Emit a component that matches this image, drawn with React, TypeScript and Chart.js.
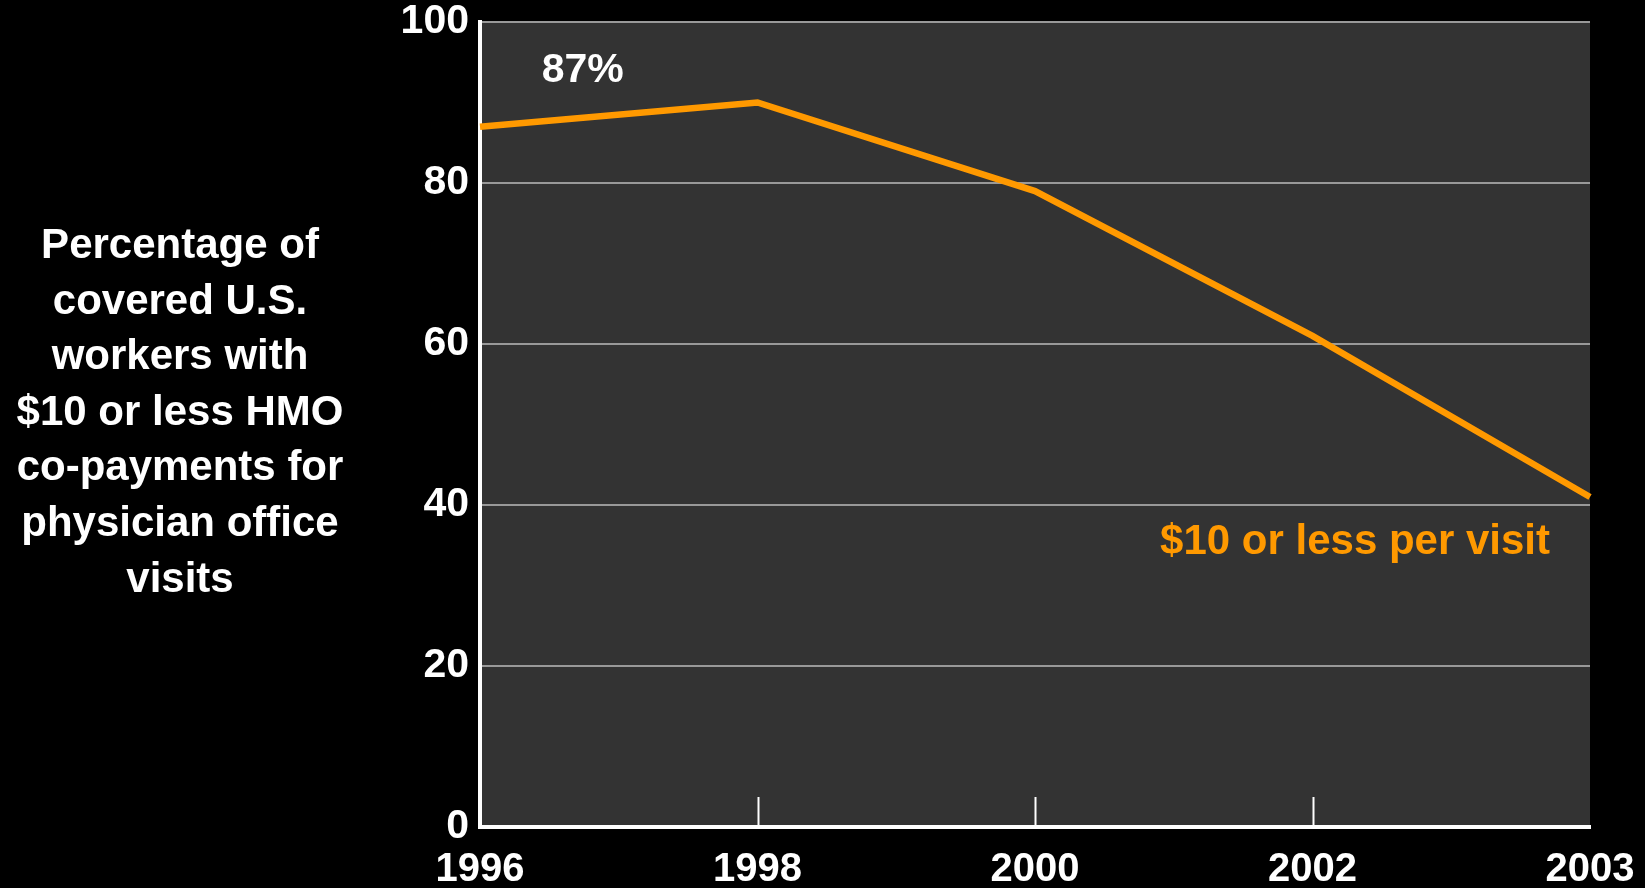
import React, { useEffect, useRef } from "react";
import { Chart, registerables } from "chart.js";

Chart.register(...registerables);

const years = ["1996", "1998", "2000", "2002", "2003"];
const pctUnder10 = [87, 90, 79, 61, 41];
const yTicks = [0, 20, 40, 60, 80, 100];
const titleLines = [
  "Percentage of",
  "covered U.S.",
  "workers with",
  "$10 or less HMO",
  "co-payments for",
  "physician office",
  "visits",
];
const firstLabel = "87%";
const seriesLabel = "$10 or less per visit";
const innerTickYears = ["1998", "2000", "2002"];

const FONT = '"Liberation Sans", Arial, Helvetica, sans-serif';
const ORANGE = "#FF9900";

const decorPlugin = {
  id: "decor",
  beforeDraw(chart: any) {
    const { ctx, chartArea } = chart;
    ctx.save();
    ctx.fillStyle = "#000";
    ctx.fillRect(0, 0, chart.width, chart.height);
    ctx.fillStyle = "#333333";
    ctx.fillRect(chartArea.left, chartArea.top, chartArea.right - chartArea.left, chartArea.bottom - chartArea.top);
    ctx.restore();
  },
  afterDraw(chart: any) {
    const { ctx, chartArea } = chart;
    const xs = chart.scales.x;
    const ys = chart.scales.y;
    ctx.save();
    // inner tick marks
    ctx.strokeStyle = "#ffffff";
    ctx.lineWidth = 2;
    innerTickYears.forEach((yr) => {
      const idx = years.indexOf(yr);
      const px = Math.round(xs.getPixelForValue(idx)) + 0.5;
      ctx.beginPath();
      ctx.moveTo(px, chartArea.bottom);
      ctx.lineTo(px, chartArea.bottom - 30);
      ctx.stroke();
    });
    // 87% label
    const step = xs.getPixelForValue(1) - xs.getPixelForValue(0);
    ctx.fillStyle = "#ffffff";
    ctx.font = `bold 41px ${FONT}`;
    ctx.textAlign = "center";
    ctx.textBaseline = "middle";
    ctx.fillText(firstLabel, xs.getPixelForValue(0) + 0.37 * step, ys.getPixelForValue(94));
    // series label
    ctx.fillStyle = ORANGE;
    ctx.font = `bold 42px ${FONT}`;
    ctx.textAlign = "right";
    ctx.fillText(seriesLabel, xs.getPixelForValue(years.length - 1) - 40, ys.getPixelForValue(35.4));
    // y-axis title
    ctx.fillStyle = "#ffffff";
    ctx.font = `bold 42px ${FONT}`;
    ctx.textAlign = "center";
    const lineH = 55.6;
    const startY = 246.5;
    titleLines.forEach((t, i) => {
      ctx.fillText(t, 180, startY + i * lineH);
    });
    ctx.restore();
  },
};

export default function App() {
  const ref = useRef<HTMLCanvasElement | null>(null);
  useEffect(() => {
    document.body.style.margin = "0";
    document.body.style.background = "#000";
    const canvas = ref.current!;
    const chart = new Chart(canvas, {
      type: "line",
      data: {
        labels: years,
        datasets: [
          {
            label: seriesLabel,
            data: pctUnder10,
            borderColor: ORANGE,
            backgroundColor: ORANGE,
            borderWidth: 6.5,
            pointRadius: 0,
            borderJoinStyle: "miter",
            tension: 0,
          },
        ],
      },
      options: {
        responsive: false,
        animation: false,
        devicePixelRatio: 1,
        layout: { padding: { left: 0, top: 22, right: 55, bottom: 0 } },
        plugins: {
          legend: { display: false },
          tooltip: { enabled: false },
          title: { display: false },
        },
        scales: {
          x: {
            type: "category",
            offset: false,
            grid: { display: false, drawTicks: false },
            border: { display: true, color: "#ffffff", width: 4 },
            ticks: {
              color: "#ffffff",
              font: { family: FONT, size: 40, weight: "bold" },
              padding: 19,
              maxRotation: 0,
              autoSkip: false,
            },
            afterFit(scale: any) {
              scale.height = 61;
              scale.paddingLeft = 0;
              scale.paddingRight = 0;
            },
          },
          y: {
            min: 0,
            max: 100,
            afterBuildTicks(scale: any) {
              scale.ticks = yTicks.map((v) => ({ value: v }));
            },
            grid: { color: "#999999", lineWidth: 2, drawTicks: false },
            border: { display: true, color: "#ffffff", width: 4 },
            ticks: {
              color: "#ffffff",
              font: { family: FONT, size: 41, weight: "bold" },
              padding: 11,
            },
            afterFit(scale: any) {
              scale.width = 480;
              scale.paddingTop = 0;
              scale.paddingBottom = 0;
            },
          },
        },
      },
      plugins: [decorPlugin],
    });
    return () => chart.destroy();
  }, []);
  return (
    <div style={{ position: "fixed", left: 0, top: 0, width: 1645, height: 888, background: "#000" }}>
      <canvas ref={ref} width={1645} height={888} style={{ display: "block" }} />
    </div>
  );
}
